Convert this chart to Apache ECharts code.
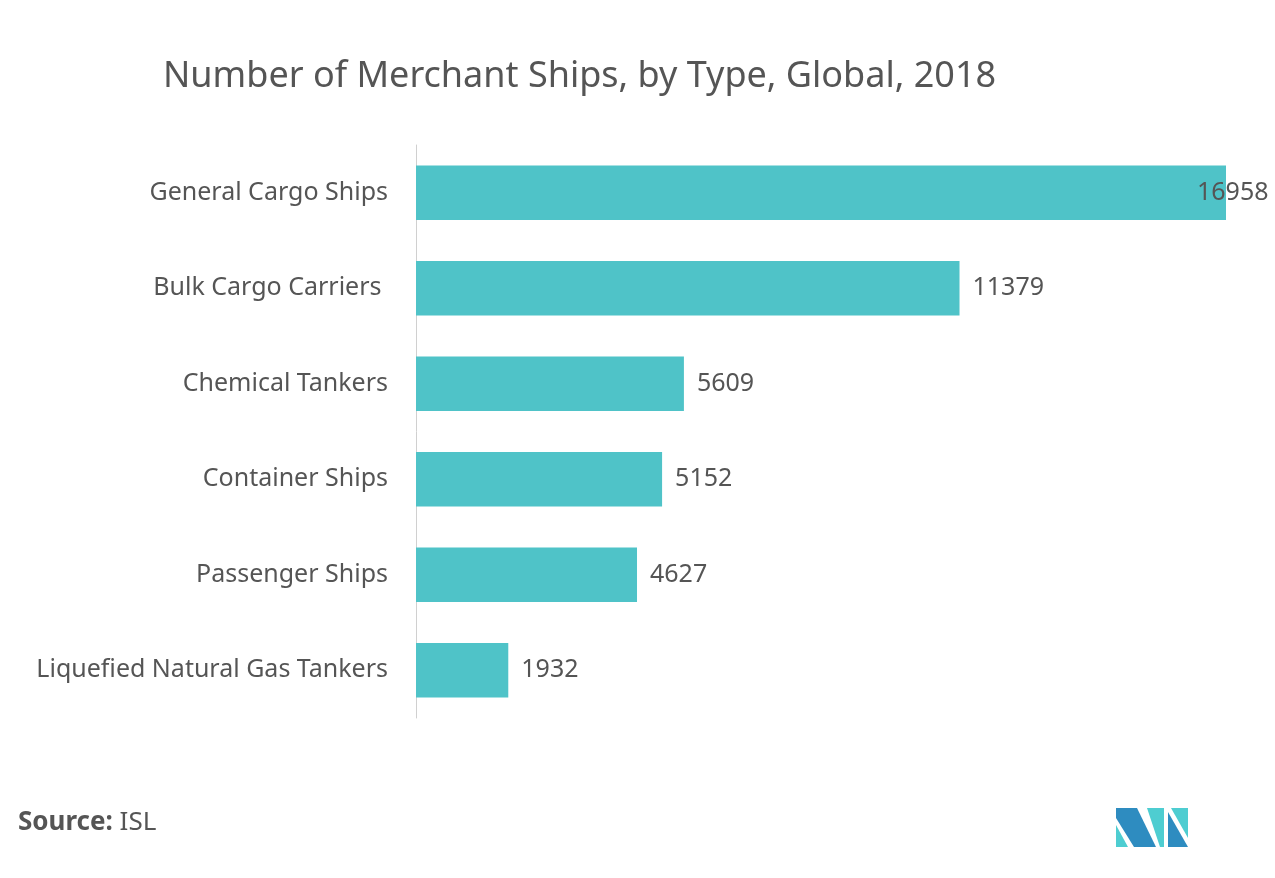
<!DOCTYPE html>
<html><head><meta charset="utf-8">
<script src="https://cdn.jsdelivr.net/npm/echarts@6/dist/echarts.min.js"></script>
<style>html,body{margin:0;padding:0;background:#fff}#c{width:1275px;height:878px}</style>
</head><body><div id="c"></div>
<script>
const categories = ["General Cargo Ships","Bulk Cargo Carriers ","Chemical Tankers","Container Ships","Passenger Ships","Liquefied Natural Gas Tankers"];
const values = [16958, 11379, 5609, 5152, 4627, 1932];
const titleText = "Number of Merchant Ships, by Type, Global, 2018";

const chart = echarts.init(document.getElementById('c'));
const FONT = '"Noto Sans", "Open Sans", sans-serif';
const TXT = '#555555';
chart.setOption({
  backgroundColor: '#ffffff',
  title: { text: titleText, left: 158, top: 54, textStyle: { fontFamily: FONT, fontSize: 36, fontWeight: 'normal', color: TXT } },
  grid: { left: 416, right: 49, top: 145, bottom: 160, containLabel: false },
  xAxis: { type: 'value', min: 0, max: 16958, show: false },
  yAxis: { type: 'category', data: categories, inverse: true,
    axisLine: { show: true, lineStyle: { color: '#d0d0d0', width: 1 } },
    axisTick: { show: false },
    axisLabel: { fontFamily: FONT, fontSize: 25, color: TXT, margin: 28 } },
  series: [{
    type: 'bar', barWidth: '57%',
    itemStyle: { color: '#4FC3C8' },
    data: values.map((v, i) => i === 0 ? { value: v, label: { distance: -29 } } : v),
    label: { show: true, position: 'right', distance: 13, fontFamily: FONT, fontSize: 25, color: TXT }
  }],
  graphic: [
    { type: 'text', left: 18, top: 810, style: { text: '{b|Source:} ISL', rich: { b: { fontWeight: 'bold', fontFamily: FONT, fontSize: 26, fill: TXT } }, font: '26px ' + FONT, fill: TXT } },
    { type: 'polygon', shape: { points: [[1116,825],[1116,847],[1128,847]] }, style: { fill: '#4ECDD1' } },
    { type: 'polygon', shape: { points: [[1116,808],[1137,808],[1156,847],[1134,847],[1116,818]] }, style: { fill: '#2E8CC0' } },
    { type: 'polygon', shape: { points: [[1147,808],[1164,808],[1164,847],[1160,847]] }, style: { fill: '#4ECDD1' } },
    { type: 'polygon', shape: { points: [[1168,812],[1188,847],[1168,847]] }, style: { fill: '#2E8CC0' } },
    { type: 'polygon', shape: { points: [[1171,808],[1188,808],[1188,838]] }, style: { fill: '#4ECDD1' } }
  ]
});
</script></body></html>
